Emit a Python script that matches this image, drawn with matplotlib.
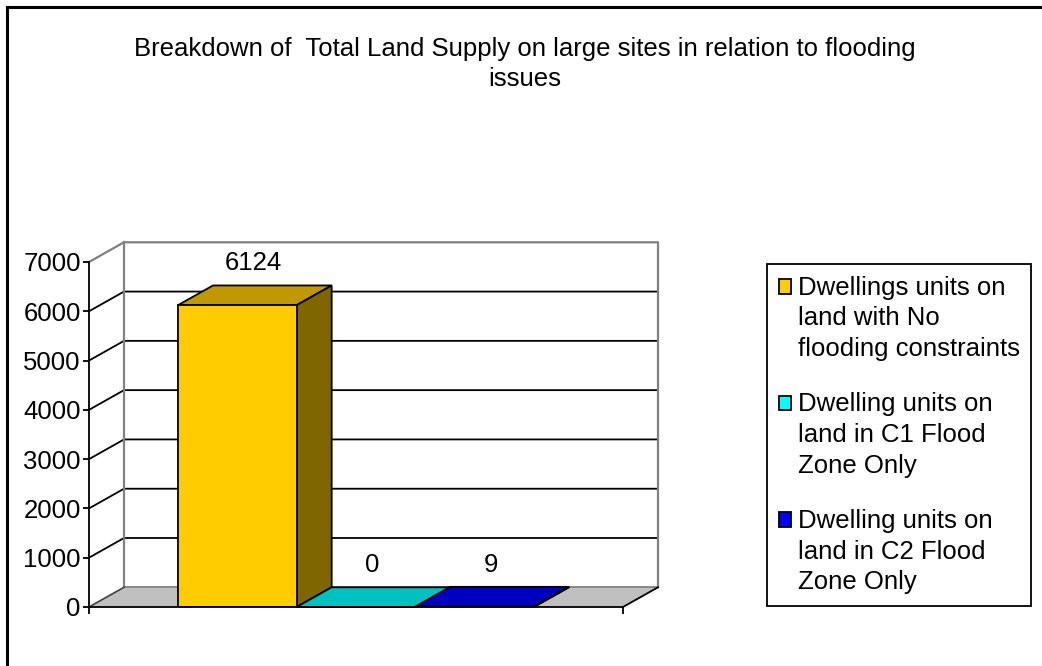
import matplotlib
matplotlib.use("Agg")
import matplotlib.pyplot as plt
from matplotlib.legend_handler import HandlerPatch
from matplotlib.patches import Polygon, Rectangle

plt.rcParams["font.family"] = ["Liberation Sans", "DejaVu Sans"]

TITLE = "Breakdown of  Total Land Supply on large sites in relation to flooding\nissues"
SERIES = [
    "Dwellings units on\nland with No\nflooding constraints",
    "Dwelling units on\nland in C1 Flood\nZone Only",
    "Dwelling units on\nland in C2 Flood\nZone Only",
]
VALUES = [6124, 0, 9]
YTICKS = [0, 1000, 2000, 3000, 4000, 5000, 6000, 7000]

FRONT = ["#FFCC00", "#00FFFF", "#0000FF"]
TOP = ["#C09900", "#00C0C0", "#0000C0"]
SIDE = ["#806600", "#008080", "#000080"]
WALL_EDGE = "#808080"
FLOOR = "#C0C0C0"

W, H = 1042, 666
FS = 18.5
LINESP = 1.35
DX, DY = 0.295, 400  # fake 3d depth, in data units
X0, X1 = -0.75, 3.75
YMAX = YTICKS[-1]


def first_line_box(legend, orig_handle, xdescent, ydescent, width, height, fontsize):
    # excel puts the key next to the first line of a wrapped label
    return Rectangle((-xdescent, -ydescent + fontsize * LINESP * 0.93), width, height)


def main():
    fig = plt.figure(figsize=(W / 100, H / 100), dpi=100)
    ax = fig.add_axes([89 / W, (H - 607) / H, 534 / W, 345 / H])
    ax.set_xlim(X0, X1)
    ax.set_ylim(0, YMAX)
    ax.patch.set_visible(False)

    # back wall and side wall gridlines
    for v in YTICKS[1:-1]:
        ax.plot([X0, X0 + DX, X1 + DX], [v, v + DY, v + DY], color="black", lw=1.3,
                clip_on=False, zorder=1)
    ax.plot([X0, X0 + DX, X1 + DX, X1 + DX], [YMAX, YMAX + DY, YMAX + DY, DY],
            color=WALL_EDGE, lw=1.6, clip_on=False, zorder=1)
    ax.plot([X0 + DX, X0 + DX], [DY, YMAX + DY], color=WALL_EDGE, lw=1.6, clip_on=False, zorder=1)

    # floor
    ax.add_patch(Polygon([(X0, 0), (X1, 0), (X1 + DX, DY), (X0 + DX, DY)], closed=True,
                         facecolor=FLOOR, edgecolor="none", clip_on=False, zorder=2))
    ax.plot([X0 + DX, X1 + DX], [DY, DY], color=WALL_EDGE, lw=1.3, clip_on=False, zorder=2)
    ax.plot([X0, X0 + DX], [0, DY], color="#404040", lw=1.2, clip_on=False, zorder=2)
    ax.plot([X1, X1 + DX], [0, DY], color="black", lw=1.3, clip_on=False, zorder=2)

    # bars
    xs = list(range(len(VALUES)))
    ax.bar(xs, VALUES, width=1, align="edge", color=FRONT, edgecolor="black", lw=1.3, zorder=5)
    for i, v in enumerate(VALUES):
        ax.add_patch(Polygon([(i, v), (i + 1, v), (i + 1 + DX, v + DY), (i + DX, v + DY)],
                             closed=True, facecolor=TOP[i], edgecolor="black", lw=1.3,
                             clip_on=False, zorder=4 + i * 0.1))
        if v > 0:
            ax.add_patch(Polygon([(i + 1, 0), (i + 1 + DX, DY), (i + 1 + DX, v + DY), (i + 1, v)],
                                 closed=True, facecolor=SIDE[i], edgecolor="black", lw=1.3,
                                 clip_on=False, zorder=4 + i * 0.1))
        ax.annotate(str(v), (i + 0.5 + DX / 2, v + DY / 2), xytext=(-1, 23),
                    textcoords="offset points", ha="center", va="center", fontsize=FS)

    # axes
    for side in ("top", "right"):
        ax.spines[side].set_visible(False)
    for side in ("left", "bottom"):
        ax.spines[side].set_linewidth(1.3)
        ax.spines[side].set_zorder(6)
    ax.set_yticks(YTICKS)
    ax.set_yticklabels([str(t) for t in YTICKS])
    ax.tick_params(axis="y", direction="out", length=4, width=1.3, pad=2, labelsize=FS)
    ax.set_xticks([X0, X1])
    ax.set_xticklabels([])
    ax.tick_params(axis="x", direction="out", length=5, width=1.3)

    fig.text(0.504, 1 - 64 / H, TITLE, ha="center", va="center", fontsize=FS,
             linespacing=1.32)

    handles = [Rectangle((0, 0), 1, 1, facecolor=c, edgecolor="black", lw=1.3) for c in FRONT]
    leg = fig.legend(handles, SERIES, loc="upper left", bbox_to_anchor=(767 / W, 1 - 264 / H),
                     frameon=True, fancybox=False, edgecolor="black", framealpha=1,
                     fontsize=FS, handlelength=0.5, handleheight=0.5, handletextpad=0.25,
                     borderpad=0.45, borderaxespad=0, labelspacing=1.22,
                     handler_map={Rectangle: HandlerPatch(patch_func=first_line_box)})
    leg.get_frame().set_linewidth(1.3)
    for t in leg.get_texts():
        t.set_linespacing(LINESP)

    # outer chart border (cut off on the right and bottom)
    fig.add_artist(Rectangle((7 / W, -0.1), 1.2, 1.1 - 7 / H, transform=fig.transFigure,
                             fill=False, edgecolor="black", lw=2.2))

    fig.savefig("out.png", dpi=100)


if __name__ == "__main__":
    main()
